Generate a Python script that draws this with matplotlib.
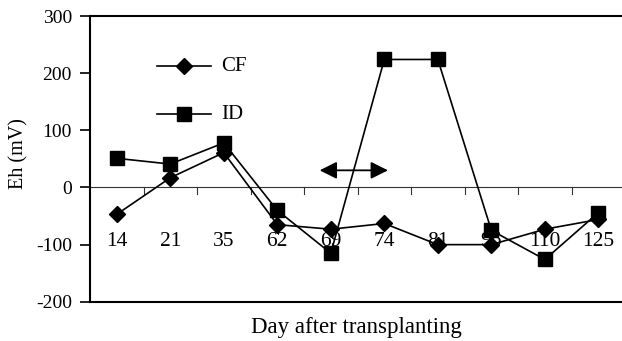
import numpy as np
import matplotlib
matplotlib.use("Agg")
import matplotlib.pyplot as plt

plt.rcParams['font.family'] = ['Liberation Serif', 'DejaVu Serif']
plt.rcParams['axes.unicode_minus'] = False

# days after transplanting (categories)
days = ['14', '21', '35', '62', '69', '74', '81', '96', '110', '125']
# Eh (mV)
cf_eh = [-47, 17, 61, -65, -73, -63, -100, -100, -73, -56]
id_eh = [51, 41, 78, -40, -115, 224, 224, -75, -126, -44]

x = np.arange(len(days))

fig = plt.figure(figsize=(6.22, 3.41), dpi=100)
ax = fig.add_axes([0.1447, 0.115, 0.8553 + 0.005, 0.838])

ax.plot(x, cf_eh, color='black', lw=1.2, marker='D', markersize=8.5, zorder=3)
ax.plot(x, id_eh, color='black', lw=1.2, marker='s', markersize=9.5, zorder=3)

ax.set_xlim(-0.5, len(days) - 0.5)
ax.set_ylim(-200, 300)
ax.set_yticks(np.arange(-200, 301, 100))
ax.tick_params(axis='y', direction='out', length=7, width=1.2, labelsize=14, pad=6)

# zero line with category separators
ax.axhline(0, color='#333333', lw=0.8, zorder=1)
for s in x[:-1] + 0.5:
    ax.plot([s, s], [0, -11], color='#333333', lw=0.8, zorder=1)
ax.set_xticks([])
for xi, lab in zip(x, days):
    ax.text(xi, -94, lab, ha='center', va='center', fontsize=15.5, zorder=2)

for side in ['left', 'top', 'bottom']:
    ax.spines[side].set_linewidth(1.5)
ax.spines['right'].set_visible(False)

# legend drawn by hand
ax.plot([0.75, 1.77], [212, 212], color='black', lw=1.2)
ax.plot([1.26], [212], color='black', marker='D', markersize=8.5)
ax.text(1.95, 212, 'CF', va='center', fontsize=15)
ax.plot([0.75, 1.77], [128, 128], color='black', lw=1.2)
ax.plot([1.26], [128], color='black', marker='s', markersize=9.5)
ax.text(1.95, 128, 'ID', va='center', fontsize=15)

# drainage period arrow
ax.annotate('', xy=(3.74, 30), xytext=(5.12, 30),
            arrowprops=dict(arrowstyle='<|-|>', color='black', lw=1.3,
                            mutation_scale=26))

fig.text(0.573, 0.04, 'Day after transplanting', ha='center', va='center', fontsize=16.5)
fig.text(0.03, 0.55, 'Eh (mV)', ha='center', va='center', rotation=90, fontsize=14.5)

fig.savefig('out.png', dpi=100)
